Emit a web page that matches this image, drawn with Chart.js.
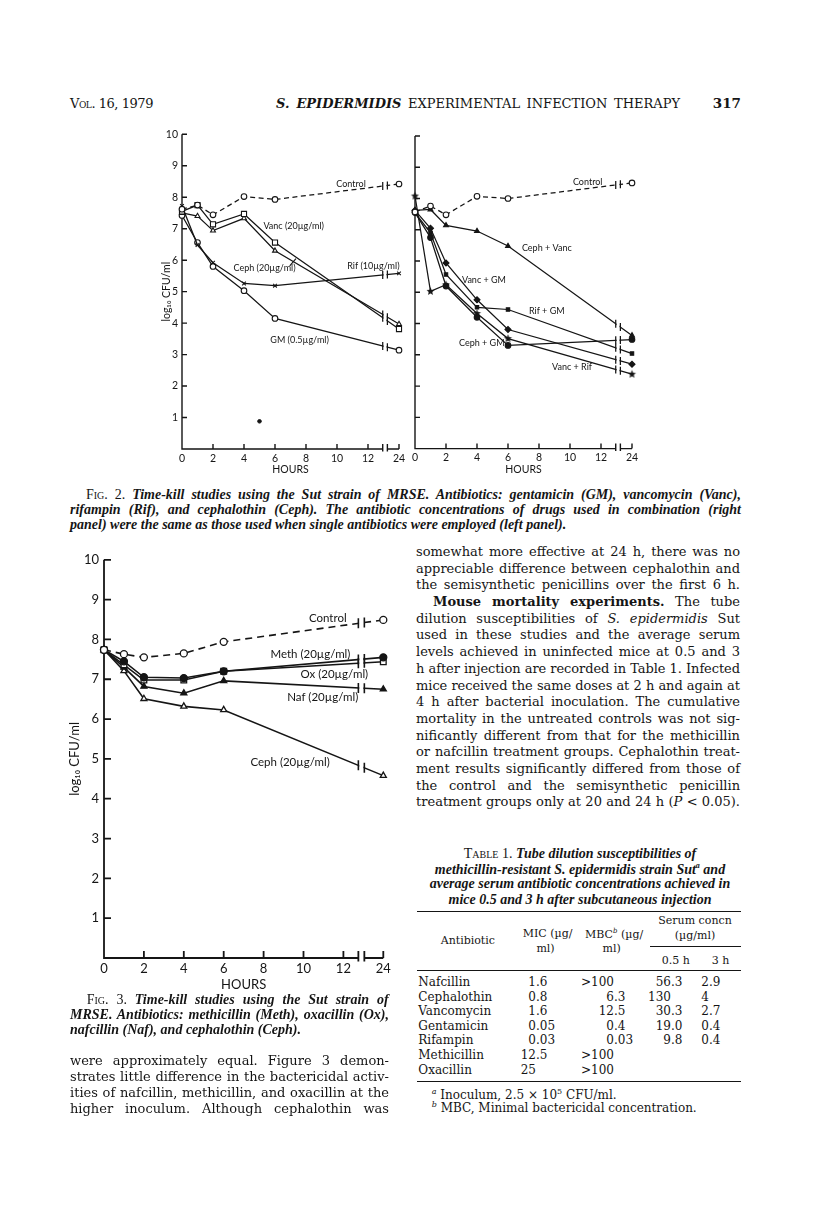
<!DOCTYPE html>
<html><head><meta charset="utf-8">
<script src="https://cdn.jsdelivr.net/npm/chart.js@4.4.0/dist/chart.umd.min.js"></script>
<style>
html,body{margin:0;padding:0;background:#fff;}
#page{position:relative;width:816px;height:1222px;overflow:hidden;background:#fff;color:#151515;}
.ln{position:absolute;white-space:nowrap;line-height:1;}
.cv{position:absolute;}
.rule{position:absolute;border-top:1.4px solid #151515;height:0;}
.sc{font-variant:small-caps;font-style:normal;font-weight:normal;}
</style></head><body><div id="page"></div>
<script>
// ================= DATA =================
const SAMPLE_HOURS = [0, 1, 2, 4, 6, 24];
const HOUR_TICKS = [0, 2, 4, 6, 8, 10, 12, 24];
const LOG_TICKS = [0, 1, 2, 3, 4, 5, 6, 7, 8, 9, 10];

// Fig. 2, left panel (single antibiotics), log10 CFU/ml
const fig2L_control = [7.62, 7.75, 7.44, 8.02, 7.93, 8.42];
const fig2L_vanc    = [7.55, 7.75, 7.14, 7.47, 6.56, 3.81];
const fig2L_ceph    = [7.50, 7.40, 6.94, 7.33, 6.30, 3.97];
const fig2L_rif     = [7.72, 6.48, 5.92, 5.26, 5.19, 5.58];
const fig2L_gm      = [7.42, 6.56, 5.80, 5.03, 4.15, 3.14];
const fig2L_speckHours = [5];
const fig2L_speckValues = [0.88];

// Fig. 2, right panel (combinations)
const fig2R_control  = [7.57, 7.76, 7.48, 8.07, 8.00, 8.50];
const fig2R_cephVanc = [7.62, 7.65, 7.14, 6.96, 6.48, 3.62];
const fig2R_vancGM   = [7.62, 7.05, 5.94, 4.76, 3.81, 2.70];
const fig2R_rifGM    = [7.55, 6.90, 5.57, 4.52, 4.45, 3.04];
const fig2R_cephGM   = [7.55, 6.75, 5.20, 4.20, 3.30, 3.49];
const fig2R_vancRif  = [8.08, 5.03, 5.24, 4.32, 3.52, 2.38];

// Fig. 3
const fig3_control = [7.74, 7.63, 7.55, 7.65, 7.94, 8.49];
const fig3_meth    = [7.74, 7.45, 7.05, 7.03, 7.20, 7.55];
const fig3_ox      = [7.74, 7.36, 6.98, 6.98, 7.20, 7.44];
const fig3_naf     = [7.74, 7.30, 6.82, 6.65, 6.96, 6.75];
const fig3_ceph    = [7.74, 7.21, 6.51, 6.32, 6.23, 4.58];

// Table 1
const tableNames   = ['Nafcillin','Cephalothin','Vancomycin','Gentamicin','Rifampin','Methicillin','Oxacillin'];
const tableMIC     = ['1.6','0.8','1.6','0.05','0.03','12.5','25'];
const tableMBC     = ['>100','6.3','12.5','0.4','0.03','>100','>100'];
const tableSerum05 = ['56.3','130','30.3','19.0','9.8','',''];
const tableSerum3  = ['2.9','4','2.7','0.4','0.4','',''];

// ================= HELPERS =================
const page = document.getElementById('page');
const SERIF = '"DejaVu Serif", serif';
const TIMES = '"Liberation Serif", serif';
const SANS = 'Lato, "DejaVu Sans", sans-serif';
const INK = '#151515';

function esc(s){ return s.replace(/&/g,'&amp;').replace(/</g,'&lt;').replace(/>/g,'&gt;'); }

function txt(html, x, y, o = {}) {
  const size = o.size || 13;
  const d = document.createElement('div');
  d.className = 'ln';
  d.style.fontFamily = o.font || SERIF;
  d.style.fontSize = size + 'px';
  if (o.italic) d.style.fontStyle = 'italic';
  if (o.bold) d.style.fontWeight = 'bold';
  if (o.sc) d.style.fontVariant = 'small-caps';
  const sp = document.createElement('span');
  sp.innerHTML = html;
  d.appendChild(sp);
  page.appendChild(d);
  let w = sp.getBoundingClientRect().width;
  if (o.w && w > o.w - 0.5) {
    const n = sp.textContent.length;
    let ls = -(w - o.w + 1) / n;
    if (ls < -0.6) ls = -0.6;
    d.style.letterSpacing = ls + 'px';
    w = sp.getBoundingClientRect().width;
    if (w > o.w - 0.5) {
      d.style.fontSize = (size * (o.w - 1) / w) + 'px';
      w = sp.getBoundingClientRect().width;
    }
  }
  const fs = parseFloat(d.style.fontSize);
  d.style.top = (y - fs * (o.vc || 0.6)) + 'px';
  let left = x;
  if (o.w && o.justify) {
    d.style.width = o.w + 'px';
    d.style.whiteSpace = 'normal';
    d.style.textAlign = 'justify';
    d.style.textAlignLast = 'justify';
  } else if (o.align === 'right') left = x - w;
  else if (o.align === 'center') left = x - w / 2;
  d.style.left = left + 'px';
  return d;
}
function rule(x1, x2, y, t) {
  const r = document.createElement('div');
  r.className = 'rule';
  r.style.left = x1 + 'px'; r.style.width = (x2 - x1) + 'px'; r.style.top = y + 'px';
  if (t) r.style.borderTopWidth = t + 'px';
  page.appendChild(r);
}
function decCell(val, decX, y, size) {
  if (!val) return;
  const k = val.indexOf('.');
  const ip = k < 0 ? val : val.slice(0, k), fp = k < 0 ? '' : val.slice(k);
  txt(esc(ip), decX, y, {size, align: 'right'});
  if (fp) txt(esc(fp), decX, y, {size});
}

// ================= CHARTS =================
Chart.defaults.font.family = SANS;
Chart.defaults.color = INK;
Chart.defaults.animation = false;

function axisPos(h) { return h > 12 ? 14 : h; }   // 24 h is drawn past the axis break
function series(values) { return values.map((v, i) => ({x: axisPos(SAMPLE_HOURS[i]), y: v})); }

function starCanvas(r) {
  const s = Math.ceil(r * 2 + 2);
  const c = document.createElement('canvas'); c.width = s; c.height = s;
  const g = c.getContext('2d'); g.fillStyle = INK; g.beginPath();
  for (let k = 0; k < 10; k++) {
    const a = -Math.PI / 2 + k * Math.PI / 5, rr = k % 2 ? r * 0.45 : r;
    g.lineTo(s / 2 + rr * Math.cos(a), s / 2 + rr * Math.sin(a));
  }
  g.closePath(); g.fill();
  return c;
}

function line(values, marker, st, extra) {
  return Object.assign({
    data: series(values), showLine: true, borderColor: INK, borderWidth: st.lineWidth,
    pointStyle: marker.style, pointRadius: marker.r || st.r, pointHoverRadius: marker.r || st.r,
    pointBackgroundColor: marker.fill ? INK : '#fff', pointBorderColor: INK, pointBorderWidth: st.markerBorder,
    clip: false, tension: 0
  }, extra || {});
}

function makePaperPlugin(st, notes, leaders) {
  return {
    id: 'paper',
    beforeDatasetsDraw(chart) {
      const {ctx} = chart, xs = chart.scales.x, ys = chart.scales.y;
      const X = v => xs.getPixelForValue(v), Y = v => ys.getPixelForValue(v);
      const x0 = X(0), y0 = Y(0);
      const b1 = X(st.breakAt[0]), b2 = X(st.breakAt[1]);
      ctx.save();
      ctx.strokeStyle = INK; ctx.lineWidth = st.axisWidth; ctx.lineCap = 'butt';
      ctx.beginPath();
      ctx.moveTo(x0, Y(10)); ctx.lineTo(x0, y0 + st.axisWidth / 2);
      ctx.moveTo(x0 - st.axisWidth / 2, y0); ctx.lineTo(b1, y0);
      ctx.moveTo(b2, y0); ctx.lineTo(X(14), y0);
      ys.ticks.forEach(t => { if (t.value === 0) return; const py = Y(t.value); ctx.moveTo(x0, py); ctx.lineTo(x0 + st.tick, py); });
      xs.ticks.forEach(t => { if (t.value === 0) return; const px = X(t.value); ctx.moveTo(px, y0); ctx.lineTo(px, y0 - st.tick); });
      ctx.moveTo(b1, y0 - st.tick); ctx.lineTo(b1, y0 + st.tick * 0.5);
      ctx.moveTo(b2, y0 - st.tick); ctx.lineTo(b2, y0 + st.tick * 0.5);
      ctx.stroke();
      ctx.restore();
    },
    afterDatasetsDraw(chart) {
      const {ctx} = chart, xs = chart.scales.x, ys = chart.scales.y;
      const X = v => xs.getPixelForValue(v), Y = v => ys.getPixelForValue(v);
      const b1 = X(st.breakAt[0]), b2 = X(st.breakAt[1]);
      ctx.save();
      ctx.strokeStyle = INK; ctx.lineWidth = st.lineWidth;
      chart.data.datasets.forEach((ds, i) => {
        if (!ds.showLine) return;
        const pts = chart.getDatasetMeta(i).data, n = pts.length;
        const p = pts[n - 2], q = pts[n - 1];
        const yAt = x => p.y + (q.y - p.y) * (x - p.x) / (q.x - p.x);
        const ya = yAt(b1), yb = yAt(b2);
        ctx.fillStyle = '#fff';
        ctx.fillRect(b1 + 0.9, Math.min(ya, yb) - 2.5, b2 - b1 - 1.8, Math.abs(yb - ya) + 5);
        ctx.beginPath();
        ctx.moveTo(b1, ya - st.brk); ctx.lineTo(b1, ya + st.brk);
        ctx.moveTo(b2, yb - st.brk); ctx.lineTo(b2, yb + st.brk);
        ctx.stroke();
      });
      ctx.fillStyle = INK;
      ctx.font = st.noteSize + 'px ' + SANS;
      ctx.textBaseline = 'middle'; ctx.textAlign = 'left';
      notes.forEach(nt => ctx.fillText(nt.text, X(nt.x), Y(nt.y)));
      ctx.lineWidth = st.lineWidth * 0.9;
      ctx.beginPath();
      (leaders || []).forEach(l => { ctx.moveTo(X(l.x1), Y(l.y1)); ctx.lineTo(X(l.x2), Y(l.y2)); });
      ctx.stroke();
      ctx.restore();
    }
  };
}

function makeChart(g, st, datasets, notes, leaders) {
  const wrap = document.createElement('div');
  wrap.className = 'cv';
  wrap.style.left = (g.areaL - g.yW) + 'px';
  wrap.style.top = (g.areaT - g.padT) + 'px';
  wrap.style.width = (g.yW + g.areaW + g.padR) + 'px';
  wrap.style.height = (g.padT + g.areaH + g.xH) + 'px';
  const cv = document.createElement('canvas');
  wrap.appendChild(cv); page.appendChild(wrap);
  return new Chart(cv, {
    type: 'scatter',
    data: {datasets},
    options: {
      responsive: true, maintainAspectRatio: false, animation: false,
      events: [],
      layout: {padding: {left: 0, top: g.padT, right: g.padR, bottom: 0}},
      plugins: {legend: {display: false}, tooltip: {enabled: false}},
      scales: {
        x: {
          type: 'linear', min: 0, max: 14,
          grid: {display: false, drawTicks: false}, border: {display: false},
          afterBuildTicks: s => { s.ticks = HOUR_TICKS.map(h => ({value: axisPos(h)})); },
          afterFit: s => { s.height = g.xH; },
          ticks: {autoSkip: false, maxRotation: 0, padding: st.xTickPad, font: {size: st.tickSize}, color: INK,
                  callback: (v, i) => String(HOUR_TICKS[i])},
          title: {display: true, text: 'HOURS', color: INK, font: {size: st.titleSize}, padding: {top: 0, bottom: st.xTitlePad}}
        },
        y: {
          type: 'linear', min: 0, max: 10,
          grid: {display: false, drawTicks: false}, border: {display: false},
          afterBuildTicks: s => { s.ticks = LOG_TICKS.map(v => ({value: v})); },
          afterFit: s => { s.width = g.yW; },
          ticks: {display: st.yLabels, padding: st.yTickPad, font: {size: st.tickSize}, color: INK,
                  callback: v => v === 0 ? '' : String(v)},
          title: {display: st.yLabels, text: 'log\u2081\u2080 CFU/ml', color: INK, font: {size: st.titleSize}, padding: {top: st.yTitlePad, bottom: 0}}
        }
      }
    },
    plugins: [makePaperPlugin(st, notes, leaders)]
  });
}

const ST2 = {lineWidth: 1.25, axisWidth: 1.4, r: 2.8, markerBorder: 1.1, tick: 5, brk: 4, breakAt: [12.95, 13.25],
             tickSize: 10.5, titleSize: 10.5, noteSize: 9, xTickPad: 3, xTitlePad: 5, yTickPad: 4, yTitlePad: 12, yLabels: true};
const ST2R = Object.assign({}, ST2, {yLabels: false});
const ST3 = {lineWidth: 1.6, axisWidth: 1.8, r: 3.5, markerBorder: 1.3, tick: 7, brk: 5, breakAt: [12.75, 13.05],
             tickSize: 13, titleSize: 13, noteSize: 11.5, xTickPad: 3, xTitlePad: 5, yTickPad: 5, yTitlePad: 11, yLabels: true};

const G2L = {areaL: 181.7, areaT: 134, areaW: 217, areaH: 315, yW: 34, padT: 10, padR: 12, xH: 32};
const G2R = {areaL: 415, areaT: 135.7, areaW: 217, areaH: 312.6, yW: 8, padT: 10, padR: 12, xH: 32};
const G3  = {areaL: 104, areaT: 559, areaW: 279.3, areaH: 399, yW: 48, padT: 12, padR: 14, xH: 40};

const OPEN_CIRCLE = {style: 'circle'}, FILLED_CIRCLE = {style: 'circle', fill: true};
const OPEN_SQUARE = {style: 'rect', r: 3.6}, OPEN_TRI = {style: 'triangle'}, FILLED_TRI = {style: 'triangle', fill: true};

makeChart(G2L, ST2, [
  line(fig2L_control, OPEN_CIRCLE, ST2, {borderDash: [5, 3.5]}),
  line(fig2L_vanc, OPEN_SQUARE, ST2),
  line(fig2L_ceph, OPEN_TRI, ST2),
  line(fig2L_rif, {style: 'crossRot', r: 2.6}, ST2),
  line(fig2L_gm, OPEN_CIRCLE, ST2),
  {data: fig2L_speckHours.map((h, i) => ({x: axisPos(h), y: fig2L_speckValues[i]})), showLine: false,
   pointRadius: 1.8, pointBackgroundColor: INK, pointBorderColor: INK, clip: false}
], [
  {text: 'Control', x: 9.95, y: 8.41},
  {text: 'Vanc (20\u00b5g/ml)', x: 5.25, y: 7.08},
  {text: 'Ceph (20\u00b5g/ml)', x: 3.32, y: 5.75},
  {text: 'Rif (10\u00b5g/ml)', x: 10.66, y: 5.81},
  {text: 'GM (0.5\u00b5g/ml)', x: 5.7, y: 3.46}
], [{x1: 6.95, y1: 5.82, x2: 7.35, y2: 6.05}]);

makeChart(G2R, ST2R, [
  line(fig2R_control, OPEN_CIRCLE, ST2, {borderDash: [5, 3.5]}),
  line(fig2R_cephVanc, FILLED_TRI, ST2),
  line(fig2R_vancGM, {style: 'rectRot', fill: true, r: 3}, ST2),
  line(fig2R_rifGM, {style: 'rect', fill: true, r: 2.4}, ST2),
  line(fig2R_cephGM, FILLED_CIRCLE, ST2),
  line(fig2R_vancRif, {style: starCanvas(4.2)}, ST2)
], [
  {text: 'Control', x: 10.19, y: 8.52},
  {text: 'Ceph + Vanc', x: 6.9, y: 6.4},
  {text: 'Vanc + GM', x: 3.03, y: 5.4},
  {text: 'Rif + GM', x: 7.35, y: 4.39},
  {text: 'Ceph + GM', x: 2.84, y: 3.37},
  {text: 'Vanc + Rif', x: 8.84, y: 2.6}
]);

makeChart(G3, ST3, [
  line(fig3_control, OPEN_CIRCLE, ST3, {borderDash: [7, 5]}),
  line(fig3_meth, FILLED_CIRCLE, ST3),
  line(fig3_ox, {style: 'rect', r: 4}, ST3),
  line(fig3_naf, FILLED_TRI, ST3),
  line(fig3_ceph, OPEN_TRI, ST3)
], [
  {text: 'Control', x: 10.27, y: 8.53},
  {text: 'Meth (20\u00b5g/ml)', x: 8.34, y: 7.63},
  {text: 'Ox (20\u00b5g/ml)', x: 9.85, y: 7.13},
  {text: 'Naf (20\u00b5g/ml)', x: 9.18, y: 6.54},
  {text: 'Ceph (20\u00b5g/ml)', x: 7.34, y: 4.91}
]);

// ================= PAGE TEXT =================
// running head
txt('Vol. 16, 1979', 70, 105, {size: 13, sc: true, w: 84});
txt('<b><i>S. EPIDERMIDIS</i></b> EXPERIMENTAL INFECTION THERAPY', 276, 105, {size: 13, w: 404, justify: true});
txt('<b>317</b>', 741, 105, {size: 13.5, align: 'right'});

// Fig. 2 caption
const capF = {font: TIMES, size: 14, italic: true, bold: true};
txt('<span class="sc">Fig. 2.</span> Time-kill studies using the Sut strain of MRSE. Antibiotics: gentamicin (GM), vancomycin (Vanc),', 86, 496, Object.assign({w: 655, justify: true}, capF));
txt('rifampin (Rif), and cephalothin (Ceph). The antibiotic concentrations of drugs used in combination (right', 70, 511.7, Object.assign({w: 671, justify: true}, capF));
txt('panel) were the same as those used when single antibiotics were employed (left panel).', 70, 526.7, capF);

// Fig. 3 caption
txt('<span class="sc">Fig. 3.</span> Time-kill studies using the Sut strain of', 86.7, 1001.7, Object.assign({w: 302, justify: true}, capF));
txt('MRSE. Antibiotics: methicillin (Meth), oxacillin (Ox),', 70, 1016.7, Object.assign({w: 319, justify: true}, capF));
txt('nafcillin (Naf), and cephalothin (Ceph).', 70, 1031.7, capF);

// left column body
const leftCol = [
  'were approximately equal. Figure 3 demon-',
  'strates little difference in the bactericidal activ-',
  'ities of nafcillin, methicillin, and oxacillin at the',
  'higher inoculum. Although cephalothin was'
];
leftCol.forEach((s, i) => txt(s, 70, 1062 + i * 16, {size: 13, w: 319, justify: true}));

// right column body
const rightCol = [
  ['somewhat more effective at 24 h, there was no', 0],
  ['appreciable difference between cephalothin and', 0],
  ['the semisynthetic penicillins over the first 6 h.', 0],
  ['<b>Mouse mortality experiments.</b> The tube', 17],
  ['dilution susceptibilities of <i>S. epidermidis</i> Sut', 0],
  ['used in these studies and the average serum', 0],
  ['levels achieved in uninfected mice at 0.5 and 3', 0],
  ['h after injection are recorded in Table 1. Infected', 0],
  ['mice received the same doses at 2 h and again at', 0],
  ['4 h after bacterial inoculation. The cumulative', 0],
  ['mortality in the untreated controls was not sig-', 0],
  ['nificantly different from that for the methicillin', 0],
  ['or nafcillin treatment groups. Cephalothin treat-', 0],
  ['ment results significantly differed from those of', 0],
  ['the control and the semisynthetic penicillin', 0],
  ['treatment groups only at 20 and 24 h (<i>P</i> &lt; 0.05).', 0]
];
rightCol.forEach((r, i) => txt(r[0], 416 + r[1], 552.7 + i * 16.7, {size: 13, w: 324 - r[1], justify: true}));

// Table 1
const tF = {font: TIMES, size: 14, italic: true, bold: true, align: 'center'};
txt('<span class="sc">Table 1.</span> Tube dilution susceptibilities of', 580, 855, tF);
txt('methicillin-resistant S. epidermidis strain Sut<sup style="font-size:8px">a</sup> and', 580, 870.7, tF);
txt('average serum antibiotic concentrations achieved in', 580, 885.7, tF);
txt('mice 0.5 and 3 h after subcutaneous injection', 580, 901, tF);
rule(416.7, 740.7, 911, 1.6);
const hF = {size: 11};
txt('Antibiotic', 440.7, 941.7, hF);
txt('MIC (\u00b5g/', 522.7, 935, hF);
txt('ml)', 545.5, 950, Object.assign({align: 'center'}, hF));
txt('MBC<sup style="font-size:7px"><i>b</i></sup> (\u00b5g/', 585, 935, hF);
txt('ml)', 611.7, 950, Object.assign({align: 'center'}, hF));
txt('Serum concn', 695, 921.7, Object.assign({align: 'center'}, hF));
txt('(\u00b5g/ml)', 695, 936.7, Object.assign({align: 'center'}, hF));
rule(650, 740.7, 946.2, 1);
txt('0.5 h', 661.7, 961.7, hF);
txt('3 h', 711.7, 961.7, hF);
rule(416.7, 740.7, 970, 1.4);
tableNames.forEach((nm, i) => {
  const y = 983.3 + i * 14.57;
  txt(nm, 418.3, y, {size: 12});
  decCell(tableMIC[i], 536, y, 12);
  decCell(tableMBC[i], 614, y, 12);
  decCell(tableSerum05[i], 671, y, 12);
  decCell(tableSerum3[i], 709, y, 12);
});
rule(416.7, 740.7, 1081, 1.6);
txt('<sup style="font-size:8px"><i>a</i></sup> Inoculum, 2.5 \u00d7 10<sup style="font-size:8px">5</sup> CFU/ml.', 431.7, 1095, {size: 12});
txt('<sup style="font-size:8px"><i>b</i></sup> MBC, Minimal bactericidal concentration.', 431.7, 1108.3, {size: 12});
</script>
</body></html>
